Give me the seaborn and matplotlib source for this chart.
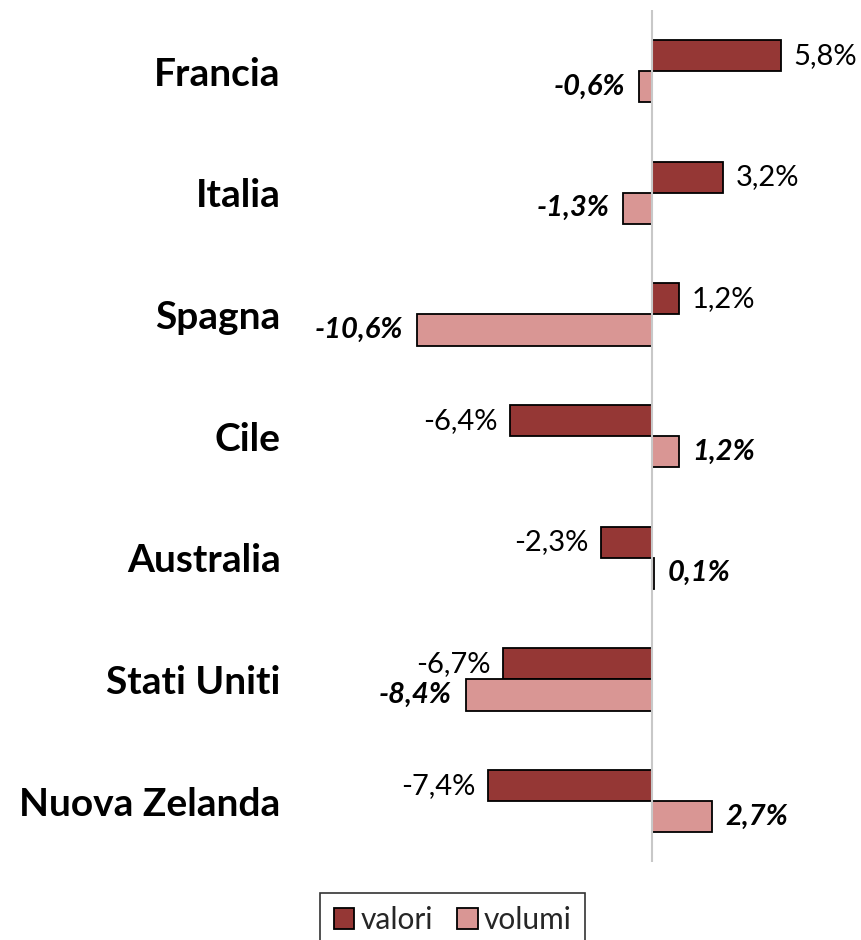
import matplotlib
matplotlib.use('Agg')
import matplotlib.pyplot as plt
from matplotlib.patches import Patch
import pandas as pd
import seaborn as sns

# ── data ──────────────────────────────────────────────────────────────────────
paesi  = ['Francia', 'Italia', 'Spagna', 'Cile', 'Australia',
          'Stati Uniti', 'Nuova Zelanda']
valori = [5.8, 3.2, 1.2, -6.4, -2.3, -6.7, -7.4]
volumi = [-0.6, -1.3, -10.6, 1.2, 0.1, -8.4, 2.7]
serie  = ['valori', 'volumi']
colori = ['#953735', '#D99694']

df = pd.DataFrame({
    'paese': paesi * 2,
    'serie': ['valori'] * len(paesi) + ['volumi'] * len(paesi),
    'var':   valori + volumi,
})

# ── plot ──────────────────────────────────────────────────────────────────────
sns.set_theme(style='white')
plt.rcParams['font.family'] = ['Lato', 'DejaVu Sans']

fig = plt.figure(figsize=(8.62, 9.40), dpi=100)
ax = fig.add_axes([0.34, 0.083, 0.66, 0.906])

sns.barplot(data=df, x='var', y='paese', hue='serie', order=paesi,
            hue_order=serie, palette=colori, saturation=1, orient='h',
            width=0.51, gap=0, edgecolor='black', linewidth=1.3,
            legend=False, ax=ax)

ax.axvline(0, color='#C8C8C8', lw=1.5, zorder=3)
ax.set_xlim(-16.17, 9.46)
ax.set_ylim(6.5, -0.5)
ax.set_xlabel(''); ax.set_ylabel('')
ax.set_xticks([])
sns.despine(ax=ax, left=True, bottom=True)
ax.tick_params(axis='y', length=0, pad=9)
for lab in ax.get_yticklabels():
    lab.set_fontsize(28)
    lab.set_fontweight('bold')
    lab.set_color('black')

fmt = lambda v: f'{v:.1f}'.replace('.', ',') + '%'
ax.bar_label(ax.containers[0], labels=[fmt(v) for v in valori],
             padding=9, fontsize=21, color='black')
ax.bar_label(ax.containers[1], labels=[fmt(v) for v in volumi],
             padding=10, fontsize=21, color='black',
             fontweight='bold', fontstyle='italic')

handles = [Patch(facecolor=c, edgecolor='black', linewidth=1.3) for c in colori]
leg = fig.legend(handles, serie, loc='upper center',
                 bbox_to_anchor=(0.525, 0.066), ncol=2, fontsize=21.5,
                 frameon=True, fancybox=False, edgecolor='black',
                 handlelength=0.7, handleheight=0.7, handletextpad=0.2,
                 columnspacing=0.8, borderpad=0.45)
leg.get_frame().set_linewidth(1.2)

plt.savefig('out.png', dpi=100)
plt.close()
